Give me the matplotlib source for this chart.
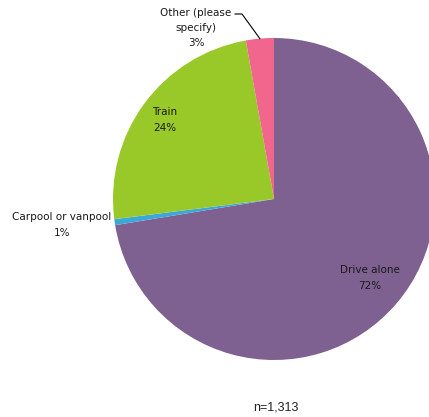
import numpy as np
import matplotlib.pyplot as plt

labels = ["Drive alone", "Carpool or vanpool", "Train", "Other (please\nspecify)"]
values = [72.4, 0.6, 24.2, 2.8]
pct_labels = ["72%", "1%", "24%", "3%"]
colors = ["#7E6190", "#3DA8D8", "#99C928", "#F0668C"]
n_text = "n=1,313"

W, H = 429, 417
fig = plt.figure(figsize=(W / 100, H / 100), dpi=100)
cx, cy, r = 274, 199, 161
ax = fig.add_axes([(cx - r) / W, (H - cy - r) / H, 2 * r / W, 2 * r / H])

ax.pie(values, colors=colors, startangle=90, counterclock=False,
       wedgeprops=dict(linewidth=0))
ax.set_xlim(-1, 1)
ax.set_ylim(-1, 1)
ax.set_aspect("equal")
ax.axis("off")


def px(x, y):
    # pixel position -> data coords of the pie axes
    return (x - cx) / r, (cy - y) / r


fs = 7.5
pos = [(370, 278), (62, 225), (165, 120), (196, 28)]
for lab, pct, (x, y) in zip(labels, pct_labels, pos):
    dx, dy = px(x, y)
    ax.text(dx, dy, lab + "\n" + pct, ha="center", va="center", fontsize=fs,
            linespacing=1.65, color="#1a1a1a", clip_on=False)

# leader line for the small "Other" slice
mid = np.deg2rad(90 - (sum(values[:3]) + values[3] / 2) / sum(values) * 360)
x0, y0 = px(235, 14)
x1, y1 = px(242, 14)
ax.plot([x0, x1, np.cos(mid)], [y0, y1, np.sin(mid)], color="black", lw=0.8,
        clip_on=False)

fig.text(276 / W, 1 - 408 / H, n_text, ha="center", va="center",
         fontsize=9, family="Liberation Sans", color="#222222")

plt.savefig("out.png", dpi=100)
